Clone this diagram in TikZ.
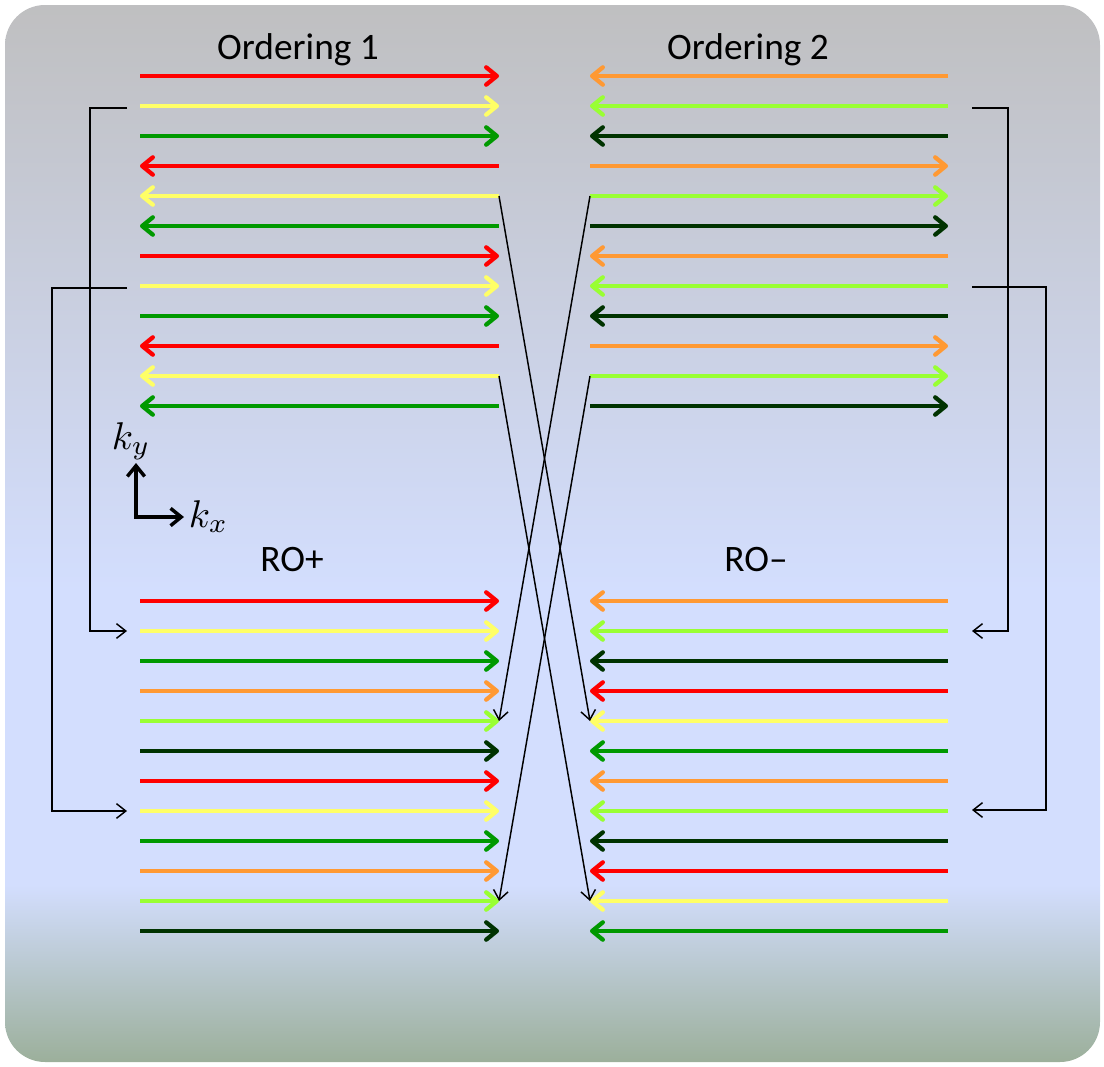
\documentclass[tikz,border=0pt]{standalone}
\usepackage{fontspec}
\setmainfont{Carlito}
\usetikzlibrary{arrows.meta}
\definecolor{cR}{RGB}{255,0,0}
\definecolor{cY}{RGB}{255,255,102}
\definecolor{cG}{RGB}{0,153,0}
\definecolor{cO}{RGB}{255,153,51}
\definecolor{cLG}{RGB}{153,255,51}
\definecolor{cDG}{RGB}{0,51,0}
\definecolor{bgTop}{RGB}{191,191,192}
\definecolor{bgMid}{RGB}{211,222,254}
\definecolor{bgBot}{RGB}{154,174,152}
\begin{document}
\begin{tikzpicture}[x=0.75pt,y=-0.75pt,
  colarrow/.style={line width=3.2pt, draw=#1},
  toright/.style={-{Straight Barb[length=8pt,width=13pt,round]}},
  toleft/.style={{Straight Barb[length=8pt,width=13pt,round]}-},
  conn/.style={line width=1.1pt, -{Straight Barb[length=7pt,width=11pt]}},
  axis/.style={line width=2.6pt, {Straight Barb[length=8pt,width=13pt]}-{Straight Barb[length=8pt,width=13pt]}},
  lbl/.style={font=\fontsize{28}{33}\selectfont, anchor=base},
  klbl/.style={font=\fontsize{10}{12}\selectfont, scale=2.9, anchor=base west, inner sep=0pt}]
\useasboundingbox (0,0) rectangle (1104,1067);
% background
\begin{scope}
  \clip[rounded corners=30pt] (5,5) rectangle (1100,1062);
  \shade[top color=bgTop, bottom color=bgMid] (0,0) rectangle (1104,591);
  \fill[bgMid] (0,590) rectangle (1104,886);
  \shade[top color=bgMid, bottom color=bgBot] (0,885) rectangle (1104,1067);
\end{scope}
% Ordering 1
\foreach \i/\col/\dir [evaluate=\i as \yy using 76+30*(\i-1)] in
 {1/cR/toright,2/cY/toright,3/cG/toright,4/cR/toleft,5/cY/toleft,6/cG/toleft,
  7/cR/toright,8/cY/toright,9/cG/toright,10/cR/toleft,11/cY/toleft,12/cG/toleft}{
  \coordinate (TLw\i) at (140,\yy);
  \coordinate (TLe\i) at (499,\yy);
  \draw[colarrow=\col,\dir] (TLw\i) -- (TLe\i);
}
% Ordering 2
\foreach \i/\col/\dir [evaluate=\i as \yy using 76+30*(\i-1)] in
 {1/cO/toleft,2/cLG/toleft,3/cDG/toleft,4/cO/toright,5/cLG/toright,6/cDG/toright,
  7/cO/toleft,8/cLG/toleft,9/cDG/toleft,10/cO/toright,11/cLG/toright,12/cDG/toright}{
  \coordinate (TRw\i) at (590,\yy);
  \coordinate (TRe\i) at (948,\yy);
  \draw[colarrow=\col,\dir] (TRw\i) -- (TRe\i);
}
% RO+
\foreach \i/\col [evaluate=\i as \yy using 601+30*(\i-1)] in
 {1/cR,2/cY,3/cG,4/cO,5/cLG,6/cDG,7/cR,8/cY,9/cG,10/cO,11/cLG,12/cDG}{
  \coordinate (BLw\i) at (140,\yy);
  \coordinate (BLe\i) at (499,\yy);
  \draw[colarrow=\col,toright] (BLw\i) -- (BLe\i);
}
% RO-
\foreach \i/\col [evaluate=\i as \yy using 601+30*(\i-1)] in
 {1/cO,2/cLG,3/cDG,4/cR,5/cY,6/cG,7/cO,8/cLG,9/cDG,10/cR,11/cY,12/cG}{
  \coordinate (BRw\i) at (590,\yy);
  \coordinate (BRe\i) at (948,\yy);
  \draw[colarrow=\col,toleft] (BRw\i) -- (BRe\i);
}
% labels
\node[lbl] (ord1) at (298,60) {Ordering 1};
\node[lbl] (ord2) at (748,60) {Ordering 2};
\node[lbl] (rop) at (292,571) {RO+};
\node[lbl] (rom) at (756,571) {RO–};
% crossing connectors
\draw[conn] (TLe5) -- (BRw5);
\draw[conn] (TLe11) -- (BRw11);
\draw[conn] (TRw5) -- (BLe5);
\draw[conn] (TRw11) -- (BLe11);
% brackets
\coordinate (bL1a) at (127,108);
\coordinate (bL1b) at (127,631);
\coordinate (bL2a) at (127,288);
\coordinate (bL2b) at (127,811);
\coordinate (bR1a) at (972,108);
\coordinate (bR1b) at (972,631);
\coordinate (bR2a) at (972,287);
\coordinate (bR2b) at (972,810);
\draw[conn] (bL1a) -- ++(-37,0) |- (bL1b);
\draw[conn] (bL2a) -- ++(-75,0) |- (bL2b);
\draw[conn] (bR1a) -- ++(36,0) |- (bR1b);
\draw[conn] (bR2a) -- ++(74,0) |- (bR2b);
% axes
\coordinate (ax0) at (136,517);
\coordinate (axY) at (136,463);
\coordinate (axX) at (184,517);
\draw[axis] (axY) -- (ax0) -- (axX);
\node[klbl] (ky) at (111,449) {$k_y$};
\node[klbl] (kx) at (188,527) {$k_x$};
\end{tikzpicture}
\end{document}
